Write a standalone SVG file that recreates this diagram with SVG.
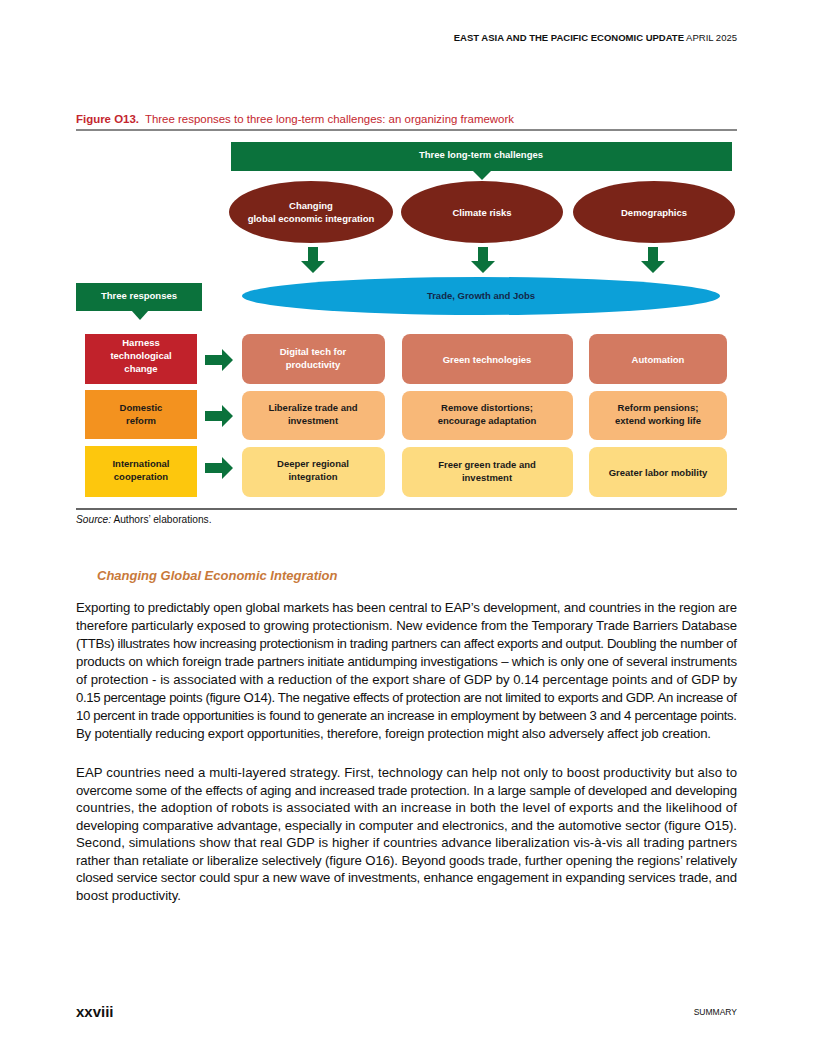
<svg xmlns="http://www.w3.org/2000/svg" width="816" height="1056" viewBox="0 0 816 1056">
<defs>
<style>
.f{font-family:"Liberation Sans Narrow","Liberation Sans",Arial,sans-serif}
.nb{font-family:"Liberation Sans Narrow","Liberation Sans",Arial,sans-serif;font-weight:bold;font-size:9.5px;text-anchor:middle}
.w{fill:#ffffff}
.d{fill:#1a1a1a}
.body{font-family:"Liberation Sans Narrow","Liberation Sans",Arial,sans-serif;font-size:13.2px;fill:#111}
.green{fill:#0b723c}
.el{fill:#7a2418}
.r1{fill:#d37a61}
.r2{fill:#f8b878}
.r3{fill:#fddb80}
</style>
</defs>
<rect width="816" height="1056" fill="#ffffff"/>

<!-- header -->
<text class="f" x="737" y="41" font-size="9.5" text-anchor="end" fill="#111"><tspan font-weight="bold">EAST ASIA AND THE PACIFIC ECONOMIC UPDATE</tspan> APRIL 2025</text>

<!-- figure title -->
<text class="f" x="76" y="123" font-size="11.6" fill="#c4262e" textLength="438" lengthAdjust="spacingAndGlyphs"><tspan font-weight="bold">Figure O13.</tspan><tspan dx="6">Three responses to three long-term challenges: an organizing framework</tspan></text>
<line x1="76" y1="130" x2="737" y2="130" stroke="#111" stroke-width="1"/>

<g id="challenges-banner">
<rect class="green" x="231" y="142" width="501" height="29"/>
<polygon class="green" points="472,170 492,170 482,180"/>
<text class="nb w" x="481" y="158">Three long-term challenges</text>
</g>

<g id="challenge-integration">
<ellipse class="el" cx="311" cy="212" rx="82" ry="31"/>
<text class="nb w" x="311" y="209">Changing</text>
<text class="nb w" x="311" y="222">global economic integration</text>
</g>
<g id="challenge-climate">
<ellipse class="el" cx="482" cy="212" rx="81" ry="31"/>
<text class="nb w" x="482" y="216">Climate risks</text>
</g>
<g id="challenge-demographics">
<ellipse class="el" cx="654" cy="212" rx="81" ry="31"/>
<text class="nb w" x="654" y="216">Demographics</text>
</g>

<g id="connectors">
<polygon class="green" points="308,247 318,247 318,261 325,261 313,273 301,261 308,261"/>
<polygon class="green" points="478,247 488,247 488,261 495,261 483,273 471,261 478,261"/>
<polygon class="green" points="648,247 658,247 658,261 665,261 653,273 641,261 648,261"/>
<polygon class="green" points="205,355 222,355 222,349 233,360 222,371 222,365 205,365"/>
<polygon class="green" points="205,411 222,411 222,405 233,416 222,427 222,421 205,421"/>
<polygon class="green" points="205,463 222,463 222,457 233,468 222,479 222,473 205,473"/>
</g>

<g id="trade-growth-jobs">
<ellipse cx="481" cy="296" rx="239" ry="19" fill="#0ca0d8"/>
<text class="nb" x="481" y="299" fill="#13284a">Trade, Growth and Jobs</text>
</g>

<g id="responses-banner">
<rect class="green" x="76" y="283" width="126" height="28"/>
<polygon class="green" points="131,310 149,310 140,320"/>
<text class="nb w" x="139" y="299">Three responses</text>
</g>

<g id="resp-harness">
<rect x="85" y="334" width="112" height="50" fill="#c1222b"/>
<text class="nb w" x="141" y="346">Harness</text>
<text class="nb w" x="141" y="359">technological</text>
<text class="nb w" x="141" y="372">change</text>
</g>
<g id="resp-domestic">
<rect x="85" y="390" width="112" height="49" fill="#f3921f"/>
<text class="nb d" x="141" y="411">Domestic</text>
<text class="nb d" x="141" y="424">reform</text>
</g>
<g id="resp-international">
<rect x="85" y="446" width="112" height="51" fill="#fdc70d"/>
<text class="nb d" x="141" y="467">International</text>
<text class="nb d" x="141" y="480">cooperation</text>
</g>

<g id="digital-tech">
<rect class="r1" x="242" y="334" width="143" height="50" rx="8"/>
<text class="nb w" x="313" y="355">Digital tech for</text>
<text class="nb w" x="313" y="368">productivity</text>
</g>
<g id="green-tech">
<rect class="r1" x="402" y="334" width="171" height="50" rx="8"/>
<text class="nb w" x="487" y="363">Green technologies</text>
</g>
<g id="automation">
<rect class="r1" x="589" y="334" width="138" height="50" rx="8"/>
<text class="nb w" x="658" y="363">Automation</text>
</g>

<g id="liberalize">
<rect class="r2" x="242" y="391" width="143" height="49" rx="8"/>
<text class="nb d" x="313" y="411">Liberalize trade and</text>
<text class="nb d" x="313" y="424">investment</text>
</g>
<g id="remove-distortions">
<rect class="r2" x="402" y="391" width="171" height="49" rx="8"/>
<text class="nb d" x="487" y="411">Remove distortions;</text>
<text class="nb d" x="487" y="424">encourage adaptation</text>
</g>
<g id="reform-pensions">
<rect class="r2" x="589" y="391" width="138" height="49" rx="8"/>
<text class="nb d" x="658" y="411">Reform pensions;</text>
<text class="nb d" x="658" y="424">extend working life</text>
</g>

<g id="deeper-integration">
<rect class="r3" x="242" y="447" width="143" height="50" rx="8"/>
<text class="nb d" x="313" y="467">Deeper regional</text>
<text class="nb d" x="313" y="480">integration</text>
</g>
<g id="freer-green-trade">
<rect class="r3" x="402" y="447" width="171" height="50" rx="8"/>
<text class="nb d" x="487" y="468">Freer green trade and</text>
<text class="nb d" x="487" y="481">investment</text>
</g>
<g id="labor-mobility">
<rect class="r3" x="589" y="447" width="138" height="50" rx="8"/>
<text class="nb d" x="658" y="476">Greater labor mobility</text>
</g>

<line x1="76" y1="509" x2="737" y2="509" stroke="#333" stroke-width="1.5"/>
<text class="f" x="76" y="523" font-size="10.2" fill="#111"><tspan font-style="italic">Source:</tspan> Authors’ elaborations.</text>

<text class="f" x="97" y="580" font-size="13" font-weight="bold" font-style="italic" fill="#c8793a">Changing Global Economic Integration</text>

<text class="body" x="76" y="612" textLength="661">Exporting to predictably open global markets has been central to EAP’s development, and countries in the region are</text>
<text class="body" x="76" y="630" textLength="661">therefore particularly exposed to growing protectionism. New evidence from the Temporary Trade Barriers Database</text>
<text class="body" x="76" y="648" textLength="661">(TTBs) illustrates how increasing protectionism in trading partners can affect exports and output. Doubling the number of</text>
<text class="body" x="76" y="666" textLength="661">products on which foreign trade partners initiate antidumping investigations – which is only one of several instruments</text>
<text class="body" x="76" y="684" textLength="661">of protection - is associated with a reduction of the export share of GDP by 0.14 percentage points and of GDP by</text>
<text class="body" x="76" y="702" textLength="661">0.15 percentage points (figure O14). The negative effects of protection are not limited to exports and GDP. An increase of</text>
<text class="body" x="76" y="720" textLength="661">10 percent in trade opportunities is found to generate an increase in employment by between 3 and 4 percentage points.</text>
<text class="body" x="76" y="738" textLength="635">By potentially reducing export opportunities, therefore, foreign protection might also adversely affect job creation.</text>

<text class="body" x="76" y="777" textLength="661">EAP countries need a multi-layered strategy. First, technology can help not only to boost productivity but also to</text>
<text class="body" x="76" y="794.5" textLength="661">overcome some of the effects of aging and increased trade protection. In a large sample of developed and developing</text>
<text class="body" x="76" y="812" textLength="661">countries, the adoption of robots is associated with an increase in both the level of exports and the likelihood of</text>
<text class="body" x="76" y="829.5" textLength="661">developing comparative advantage, especially in computer and electronics, and the automotive sector (figure O15).</text>
<text class="body" x="76" y="847" textLength="661">Second, simulations show that real GDP is higher if countries advance liberalization vis-à-vis all trading partners</text>
<text class="body" x="76" y="864.5" textLength="661">rather than retaliate or liberalize selectively (figure O16). Beyond goods trade, further opening the regions’ relatively</text>
<text class="body" x="76" y="882" textLength="661">closed service sector could spur a new wave of investments, enhance engagement in expanding services trade, and</text>
<text class="body" x="76" y="899.5" textLength="105">boost productivity.</text>

<text class="f" x="76" y="1017" font-size="15" font-weight="bold" fill="#111">xxviii</text>
<text class="f" x="737" y="1015" font-size="8.5" text-anchor="end" fill="#111">SUMMARY</text>
</svg>
